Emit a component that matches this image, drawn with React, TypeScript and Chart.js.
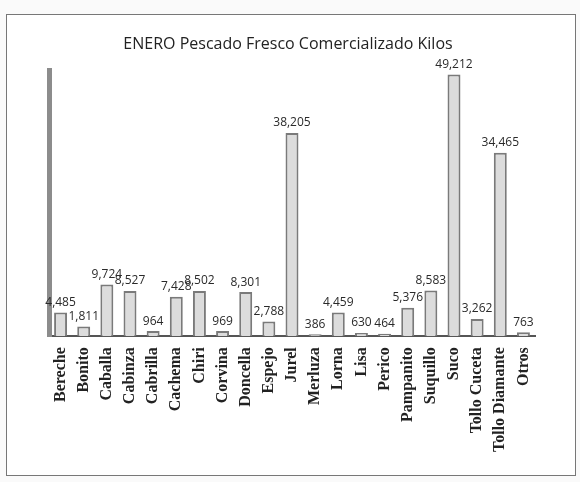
import React, { useEffect, useRef } from "react";
import { Chart, registerables } from "chart.js";

Chart.register(...registerables);

const categories = [
  "Bereche", "Bonito", "Caballa", "Cabinza", "Cabrilla", "Cachema", "Chiri",
  "Corvina", "Doncella", "Espejo", "Jurel", "Merluza", "Lorna", "Lisa",
  "Perico", "Pampanito", "Suquillo", "Suco", "Tollo Cuceta", "Tollo Diamante", "Otros",
];
const kilos = [
  4485, 1811, 9724, 8527, 964, 7428, 8502,
  969, 8301, 2788, 38205, 386, 4459, 630,
  464, 5376, 8583, 49212, 3262, 34465, 763,
];
const titleText = "ENERO Pescado Fresco Comercializado Kilos";

const valueLabels = {
  id: "valueLabels",
  afterDatasetsDraw(chart: any) {
    const { ctx } = chart;
    const meta = chart.getDatasetMeta(0);
    const data = chart.data.datasets[0].data as number[];
    ctx.save();
    ctx.font = "12px 'Open Sans', sans-serif";
    ctx.fillStyle = "#2a2a2a";
    ctx.textAlign = "center";
    ctx.textBaseline = "bottom";
    meta.data.forEach((bar: any, i: number) => {
      ctx.fillText(data[i].toLocaleString("en-US"), bar.x, bar.y - 4);
    });
    ctx.restore();
  },
};

export default function App() {
  const ref = useRef<HTMLCanvasElement>(null);
  useEffect(() => {
    document.body.style.margin = "0";
    document.body.style.background = "#fafafa";
    const chart = new Chart(ref.current!, {
      type: "bar",
      data: {
        labels: categories,
        datasets: [
          {
            data: kilos,
            backgroundColor: "#dcdcdc",
            borderColor: "#7a7a7a",
            borderWidth: 2,
            categoryPercentage: 0.8,
            barPercentage: 0.7,
          },
        ],
      },
      options: {
        animation: false,
        responsive: false,
        layout: { padding: { left: 34, right: 40, top: 12, bottom: 20 } },
        plugins: {
          legend: { display: false },
          tooltip: { enabled: false },
          title: {
            display: true,
            text: titleText,
            color: "#222",
            font: { family: "'Open Sans', sans-serif", size: 16, weight: "normal" },
            padding: { top: 8, bottom: 16 },
          },
        },
        scales: {
          x: {
            grid: { display: false },
            border: { color: "#555", width: 2 },
            ticks: {
              color: "#222",
              minRotation: 90,
              maxRotation: 90,
              autoSkip: false,
              font: { family: "'Liberation Serif', serif", size: 16, weight: "bold" },
            },
          },
          y: {
            min: 0,
            max: 50000,
            grid: { display: false },
            ticks: { display: false },
            border: { color: "#8c8c8c", width: 5 },
          },
        },
      },
      plugins: [valueLabels],
    });
    return () => chart.destroy();
  }, []);
  return (
    <div
      style={{
        position: "absolute",
        left: 6,
        top: 14,
        width: 568,
        height: 460,
        border: "1px solid #777",
        background: "#fff",
      }}
    >
      <canvas ref={ref} width={568} height={460} />
    </div>
  );
}
